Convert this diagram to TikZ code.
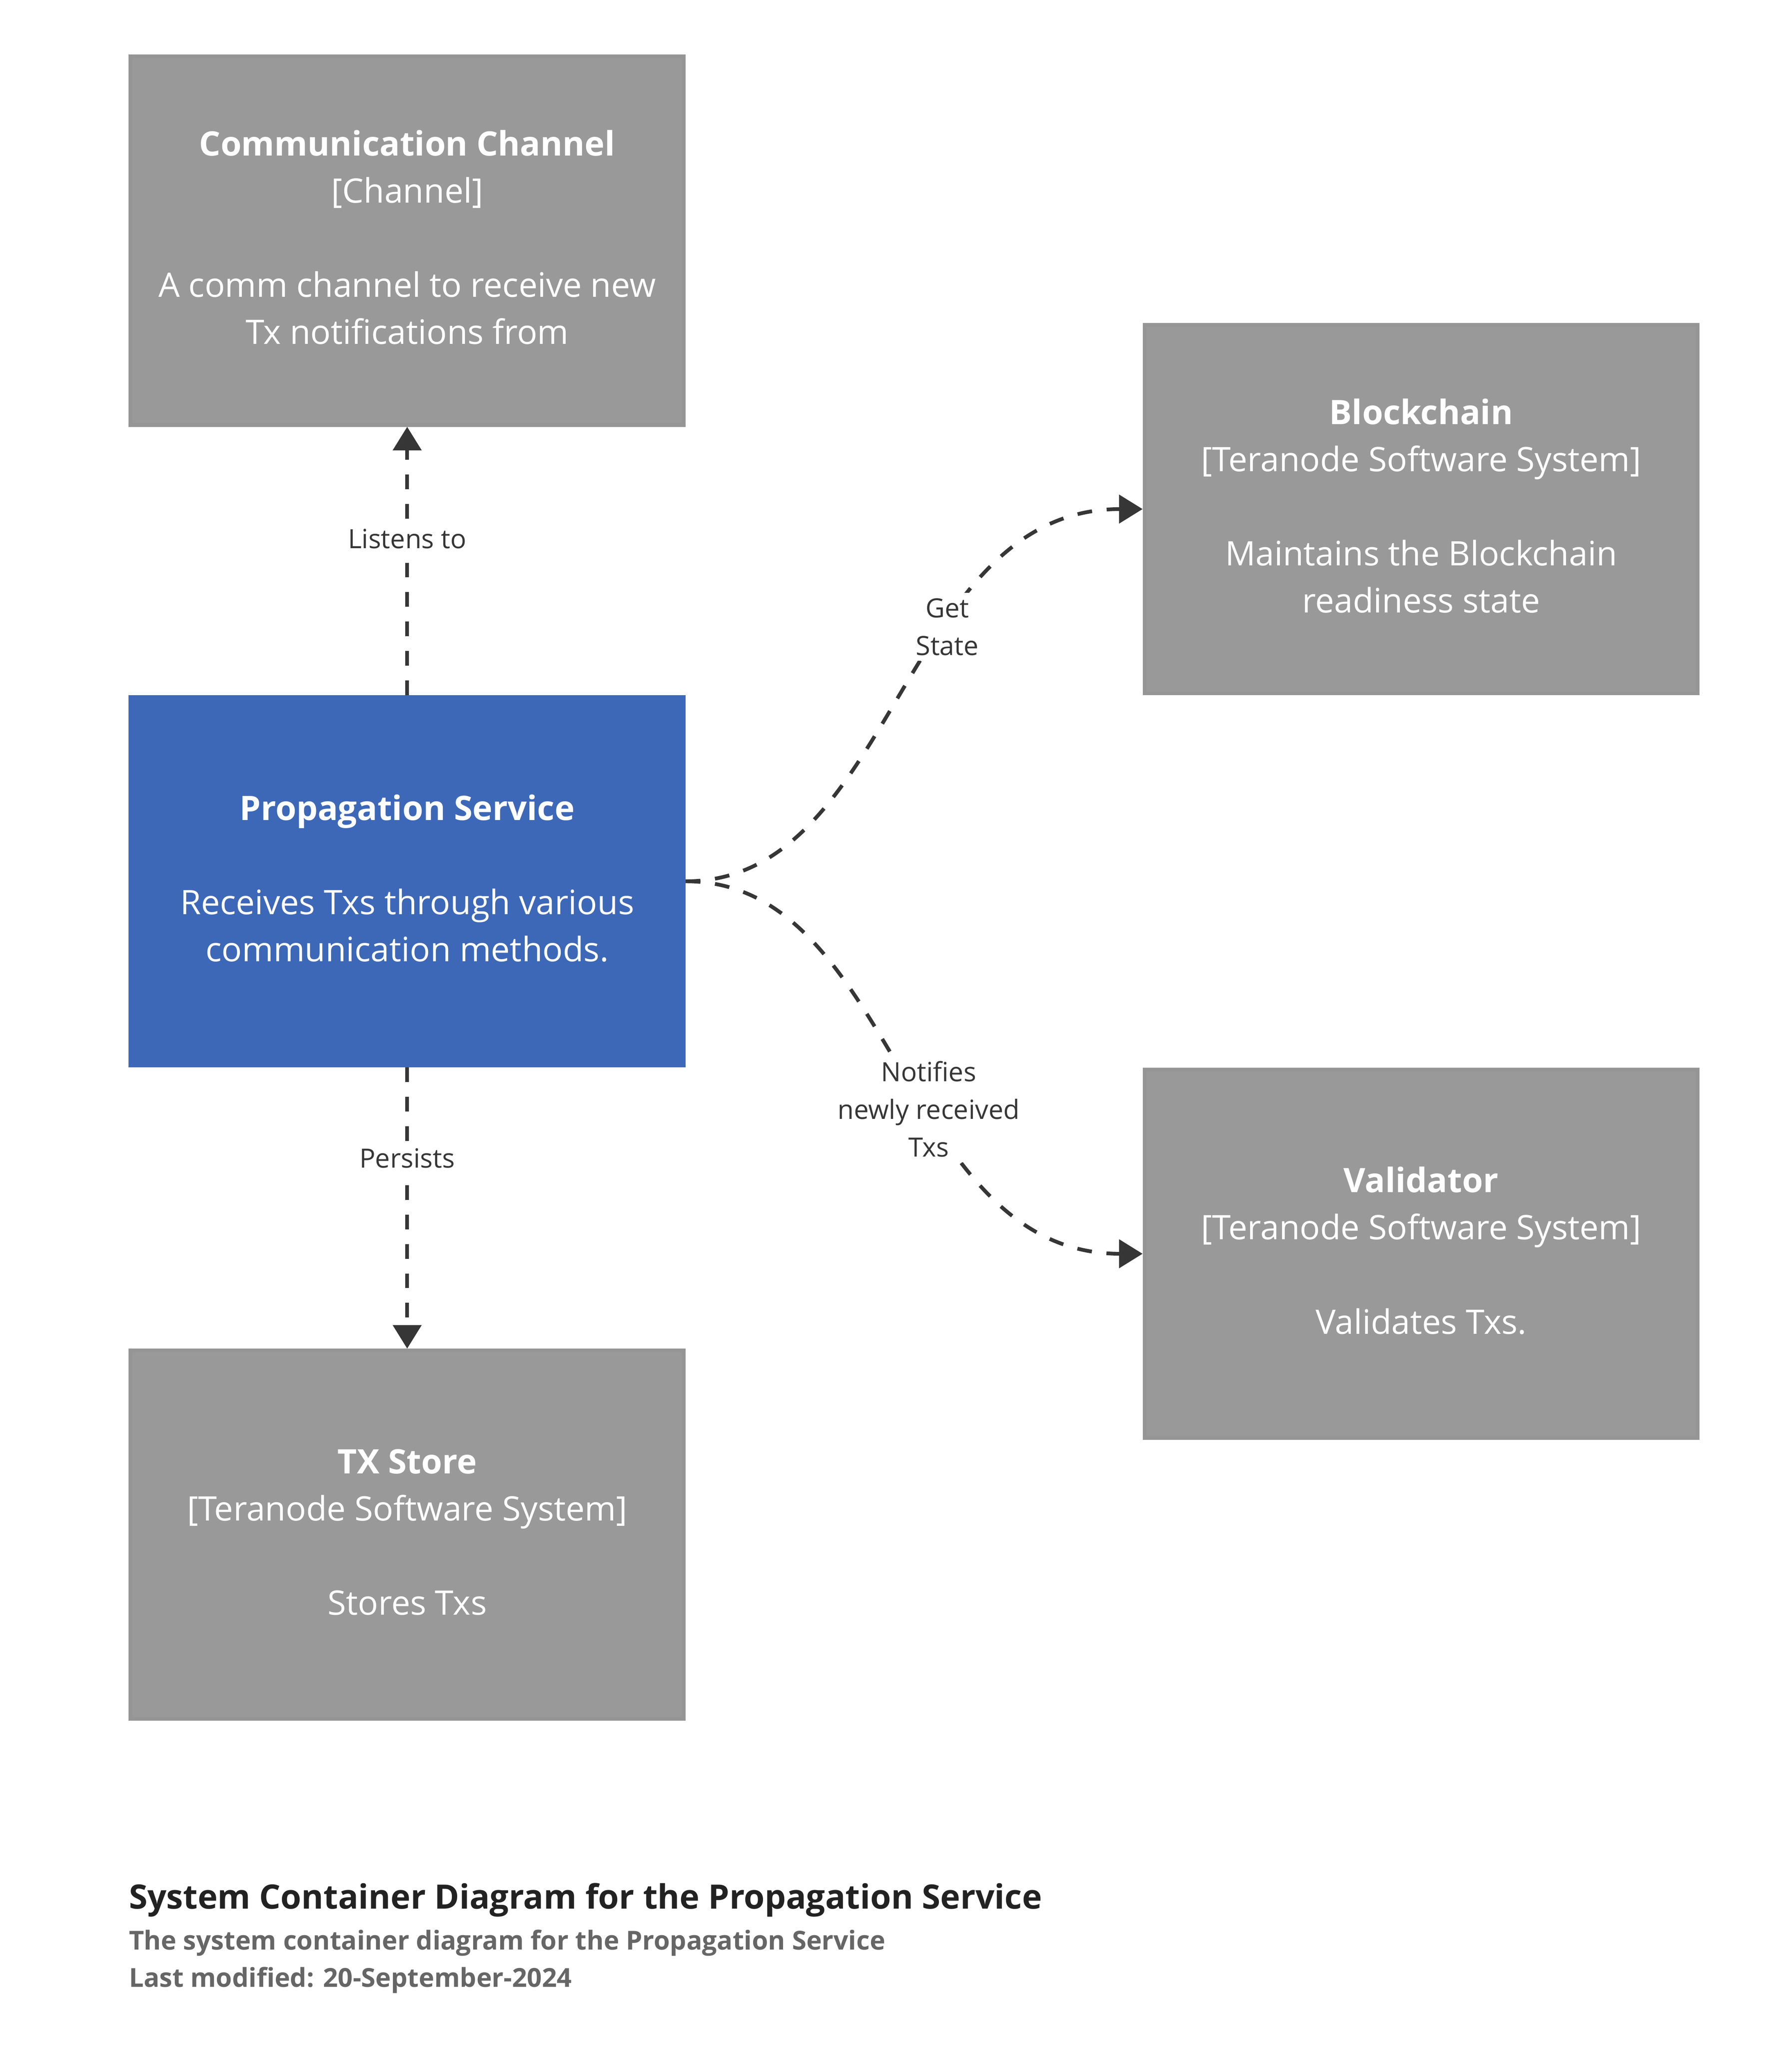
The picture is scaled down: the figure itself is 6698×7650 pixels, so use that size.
\documentclass[tikz,border=0pt]{standalone}
\usepackage{fontspec}
\setmainfont{Open Sans}
\usetikzlibrary{arrows.meta}
\definecolor{boxgray}{HTML}{999999}
\definecolor{boxedge}{HTML}{959595}
\definecolor{propblue}{HTML}{3D68B8}
\definecolor{linecol}{HTML}{363636}
\definecolor{titlecol}{HTML}{222222}
\definecolor{subcol}{HTML}{666666}
\begin{document}
\begin{tikzpicture}[x=0.2pt,y=-0.2pt,
  box/.style={rectangle, draw=boxedge, fill=boxgray, line width=2.8pt,
    minimum width=413.6pt, minimum height=275.4pt, inner sep=0pt,
    align=center, text=white, font=\fontsize{25.2pt}{35.2pt}\selectfont},
  rel/.style={draw=linecol, line width=2.8pt, dash pattern=on 11pt off 11pt,
    -{Triangle[length=17.6pt,width=21pt]}},
  lbl/.style={fill=white, text=linecol, align=center, inner sep=4pt,
    font=\fontsize{19.8pt}{28.2pt}\selectfont},
  caption/.style={anchor=base west, inner sep=0pt}]
\useasboundingbox (0,0) rectangle (6698,7650);
\fill[white] (0,0) rectangle (6698,7650);

\node[box] (comm) at (1522,899.5) {\strut\textbf{Communication Channel}\\{[Channel]}\\[35.2pt]A comm channel to receive new\\Tx notifications from\strut};
\node[box] (bc) at (5312,1902.5) {\strut\textbf{Blockchain}\\{[Teranode Software System]}\\[35.2pt]Maintains the Blockchain\\readiness state\strut};
\node[box, fill=propblue, draw=propblue] (prop) at (1522,3293.5) {\strut\textbf{Propagation Service}\\[35.2pt]Receives Txs through various\\communication methods.\strut};
\node[box] (val) at (5312,4685.5) {\strut\textbf{Validator}\\{[Teranode Software System]}\\[35.2pt]Validates Txs.\strut};
\node[box] (tx) at (1522,5735.5) {\strut\textbf{TX Store}\\{[Teranode Software System]}\\[35.2pt]Stores Txs\strut};

\draw[rel] (prop.north) -- (comm.south) node[lbl, pos=0.583] {Listens to};
\draw[rel] (prop.south) -- (tx.north) node[lbl, pos=0.3235] {Persists};
\draw[rel] (prop.east) .. controls +(780,0) and +(-900,0) .. (bc.west) node[lbl, pos=0.625] {Get\\State};
\draw[rel] (prop.east) .. controls +(780,0) and +(-900,0) .. (val.west) node[lbl, pos=0.575] {Notifies\\newly received\\Txs};

\node[caption, text=titlecol, font=\fontsize{25.1pt}{30pt}\selectfont\bfseries] (title) at (481,7134) {System Container Diagram for the Propagation Service};
\node[caption, text=subcol, font=\fontsize{19.5pt}{24pt}\selectfont\bfseries] (sub) at (481,7286) {The system container diagram for the Propagation Service};
\node[caption, text=subcol, font=\fontsize{19.5pt}{24pt}\selectfont\bfseries] (mod) at (481,7425) {Last modified: 20-September-2024};
\end{tikzpicture}
\end{document}
